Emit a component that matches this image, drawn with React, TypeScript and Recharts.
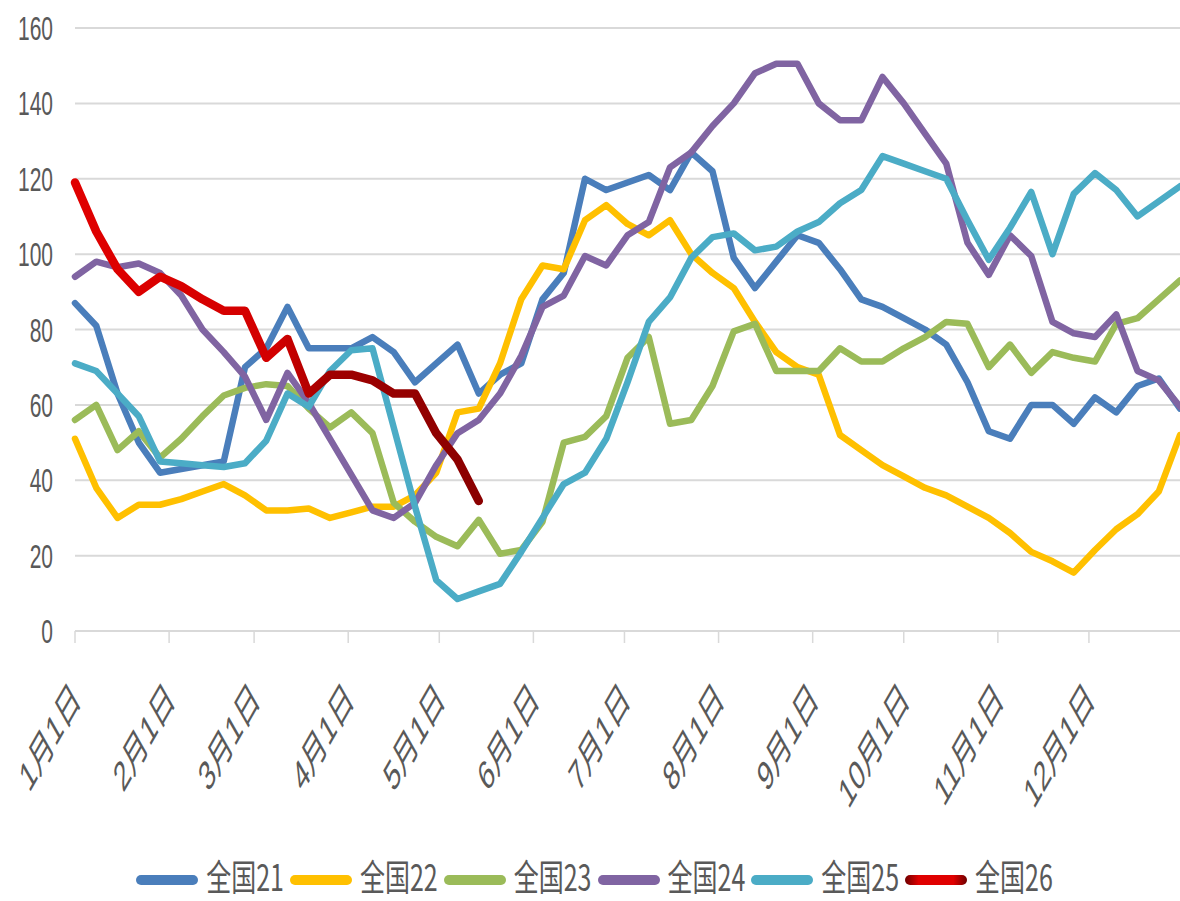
import { LineChart, Line, XAxis, YAxis, CartesianGrid, Legend } from "recharts";

// week positions (day of year) for the 53 weekly points
const weekDays = Array.from({ length: 53 }, (_, i) => i * 7);

const monthDays = [0, 31, 59, 90, 120, 151, 181, 212, 243, 273, 304, 334];
const monthLabels = ["1月1日", "2月1日", "3月1日", "4月1日", "5月1日", "6月1日", "7月1日", "8月1日", "9月1日", "10月1日", "11月1日", "12月1日"];
const yTicks = [0, 20, 40, 60, 80, 100, 120, 140, 160];

const s21 = [87, 81, 63, 50, 42, 43, 44, 45, 70, 75, 86, 75, 75, 75, 78, 74, 66, 71, 76, 63, 68, 71, 88, 95, 120, 117, 119, 121, 117, 127, 122, 99, 91, 98, 105, 103, 96, 88, 86, 83, 80, 76, 66, 53, 51, 60, 60, 55, 62, 58, 65, 67, 59];
const s22 = [51, 38, 30, 33.5, 33.5, 35, 37, 39, 36, 32, 32, 32.5, 30, 31.5, 33, 33, 36, 42, 58, 59, 71, 88, 97, 96, 109, 113, 108, 105, 109, 100, 95, 91, 82, 74, 70, 68, 52, 48, 44, 41, 38, 36, 33, 30, 26, 21, 18.5, 15.5, 21.5, 27, 31, 37, 52];
const s23 = [56, 60, 48, 53, 46, 51, 57, 62.5, 64.5, 65.5, 65, 59, 54, 58, 52.5, 34, 29, 25, 22.5, 29.5, 20.5, 21.5, 29, 50, 51.5, 57, 72.5, 78, 55, 56, 65, 79.5, 81.5, 69, 69, 69, 75, 71.5, 71.5, 75, 78, 82, 81.5, 70, 76, 68.5, 74, 72.5, 71.5, 81.5, 83, 88, 93];
const s24 = [94, 98, 96.5, 97.5, 95, 89, 80, 74, 67.5, 56, 68.5, 60.5, 51, 41.5, 32, 30, 34, 44, 52.5, 56, 63, 73, 86, 89, 99.5, 97, 105, 108.5, 123, 127, 134, 140, 148, 150.5, 150.5, 140, 135.5, 135.5, 147, 140, 132, 124, 103, 94.5, 105, 99.5, 82, 79, 78, 84, 69, 66.5, 59.5];
const s25 = [71, 69, 63, 57, 45, 44.5, 44, 43.5, 44.5, 50.5, 63, 59.5, 69, 74.5, 75, 54, 33, 13.5, 8.5, 10.5, 12.5, 21, 30, 39, 42, 51, 66, 82, 88.5, 99, 104.5, 105.5, 101, 102, 106, 108.5, 113.5, 117, 126, 124, 122, 120, 109, 98.5, 107, 116.5, 100, 116, 121.5, 117, 110, 114, 118];
const s26 = [119, 106, 96, 90, 94, 91.5, 88, 85, 85, 72.5, 77.5, 63, 68, 68, 66.5, 63, 63, 52.5, 45.5, 34.5];

const seriesNames = ["全国21", "全国22", "全国23", "全国24", "全国25", "全国26"];
const seriesColors = ["#4a7ebb", "#ffc000", "#9bbb59", "#8064a2", "#4bacc6", "url(#redGrad)"];
const swatchBg = ["#4a7ebb", "#ffc000", "#9bbb59", "#8064a2", "#4bacc6", "linear-gradient(90deg,#6e0000,#e00000 22%,#e00000 78%,#6e0000)"];

const data = weekDays.map((day, i) => ({
  day,
  s21: s21[i],
  s22: s22[i],
  s23: s23[i],
  s24: s24[i],
  s25: s25[i],
  s26: i < s26.length ? s26[i] : null,
}));

const STRETCH = 1.6;
const textFont = "'Liberation Sans', 'Noto Sans CJK SC', sans-serif";

const YTick = ({ x, y, payload }: any) => (
  <g transform={`translate(${x},${y}) scale(1,${STRETCH})`}>
    <text x={0} y={0} dy="0.36em" textAnchor="end" fill="#595959" fontSize={21} fontFamily={textFont}>
      {payload.value}
    </text>
  </g>
);

const XTick = ({ x, y, payload }: any) => {
  const idx = monthDays.indexOf(payload.value);
  return (
    <g transform={`translate(${x + 7},${y + 56}) scale(1,1.75) rotate(-45)`}>
      <text x={0} y={0} textAnchor="end" fill="#595959" fontSize={24} fontFamily={textFont}>
        {monthLabels[idx]}
      </text>
    </g>
  );
};

const LegendBox = () => (
  <div
    style={{
      height: 56,
      boxSizing: "border-box",
      paddingTop: 4,
      display: "flex",
      justifyContent: "center",
      alignItems: "center",
    }}
  >
    {seriesNames.map((name, i) => (
      <div key={name} style={{ display: "flex", alignItems: "center", marginRight: 6 }}>
        <div style={{ width: 62, height: 10, borderRadius: 5, background: swatchBg[i], marginRight: 8, marginTop: 10 }} />
        <span
          style={{
            display: "inline-block",
            fontSize: 25,
            color: "#595959",
            fontFamily: "'Noto Sans CJK SC', sans-serif",
            transform: "scaleY(1.45)",
            lineHeight: "26px",
          }}
        >
          {name}
        </span>
      </div>
    ))}
  </div>
);

const App = () => {
  const keys = ["s21", "s22", "s23", "s24", "s25", "s26"];
  return (
    <div style={{ position: "absolute", left: 0, top: 0, background: "#fff" }}>
      <LineChart width={1180} height={901} data={data} margin={{ top: 28, right: 0, bottom: 0, left: 15 }}>
        <defs>
          <linearGradient id="redGrad" x1="0" y1="0" x2="1" y2="0">
            <stop offset="0" stopColor="#e00000" />
            <stop offset="0.5" stopColor="#d20000" />
            <stop offset="0.63" stopColor="#a00000" />
            <stop offset="1" stopColor="#8a0000" />
          </linearGradient>
        </defs>
        <CartesianGrid vertical={false} stroke="#d9d9d9" strokeWidth={2} />
        <XAxis
          type="number"
          dataKey="day"
          domain={[0, 364]}
          ticks={monthDays}
          interval={0}
          height={214}
          tickSize={12}
          tickMargin={2}
          axisLine={{ stroke: "#d9d9d9", strokeWidth: 2 }}
          tickLine={{ stroke: "#d9d9d9", strokeWidth: 1.5 }}
          tick={<XTick />}
        />
        <YAxis
          domain={[0, 160]}
          ticks={yTicks}
          width={60}
          axisLine={false}
          tickLine={false}
          tickSize={0}
          tickMargin={22}
          tick={<YTick />}
        />
        <Legend verticalAlign="bottom" content={<LegendBox />} />
        {keys.map((k, i) => (
          <Line
            key={k}
            type="linear"
            dataKey={k}
            name={seriesNames[i]}
            stroke={seriesColors[i]}
            strokeWidth={k === "s26" ? 8.5 : 6.5}
            strokeLinejoin="round"
            strokeLinecap="round"
            dot={false}
            activeDot={false}
            isAnimationActive={false}
          />
        ))}
      </LineChart>
    </div>
  );
};

export default App;
